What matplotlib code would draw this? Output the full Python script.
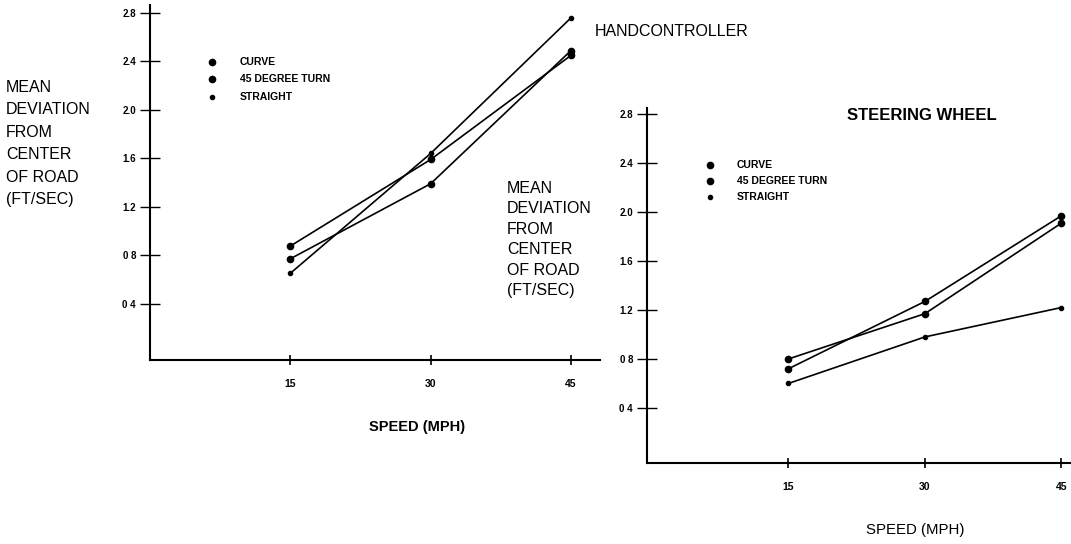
import matplotlib.pyplot as plt
from matplotlib.lines import Line2D

# data
speed = [15, 30, 45]
series_names = ['CURVE', '45 DEGREE TURN', 'STRAIGHT']

hand_curve = [0.875, 1.59, 2.45]
hand_turn = [0.77, 1.39, 2.49]
hand_straight = [0.65, 1.64, 2.76]

wheel_curve = [0.80, 1.17, 1.91]
wheel_turn = [0.72, 1.27, 1.97]
wheel_straight = [0.60, 0.98, 1.22]

y_ticks = [0.4, 0.8, 1.2, 1.6, 2.0, 2.4, 2.8]
y_tick_labels = ['0 4', '0 8', '1.2', '1.6', '2.0', '2.4', '2.8']
x_ticks = [15, 30, 45]
x_tick_labels = ['15', '30', '45']

ylabel_text = 'MEAN\nDEVIATION\nFROM\nCENTER\nOF ROAD\n(FT/SEC)'

plt.rcParams['font.family'] = ['Liberation Sans', 'DejaVu Sans']

W, H = 1071, 544
fig = plt.figure(figsize=(W / 100, H / 100), dpi=100)
fig.patch.set_facecolor('white')


def px(x, y):
    # pixel position -> figure fraction
    return x / W, 1 - y / H


def style_axes(ax):
    for s in ['top', 'right']:
        ax.spines[s].set_visible(False)
    for s in ['left', 'bottom']:
        ax.spines[s].set_linewidth(1.5)
        ax.spines[s].set_color('black')
    ax.set_facecolor('none')
    ax.set_yticks(y_ticks)
    ax.set_yticklabels(y_tick_labels, fontsize=7, fontweight='bold')
    ax.set_xticks(x_ticks)
    ax.set_xticklabels(x_tick_labels, fontsize=7.5, fontweight='bold')
    ax.tick_params(axis='y', direction='inout', length=14, width=1.0, pad=3)
    ax.tick_params(axis='x', direction='inout', length=7, width=1.2, pad=10)


def draw_series(ax, curve, turn, straight):
    ax.plot(speed, curve, color='black', lw=1.2, marker='o', ms=4.5)
    ax.plot(speed, turn, color='black', lw=1.2, marker='o', ms=4.5)
    ax.plot(speed, straight, color='black', lw=1.2, marker='o', ms=3)


def draw_legend(x_dot, x_text, rows):
    sizes = [4.5, 4.5, 3]
    for name, y, ms in zip(series_names, rows, sizes):
        fx, fy = px(x_dot, y)
        fig.add_artist(Line2D([fx], [fy], marker='o', ms=ms, color='black',
                              transform=fig.transFigure))
        tx, ty = px(x_text, y)
        fig.text(tx, ty, name, fontsize=7.5, fontweight='bold', va='center', ha='left')


# --- left panel: hand controller ---
ax1 = fig.add_axes([150 / W, 1 - 360 / H, 450 / W, 355 / H])
style_axes(ax1)
draw_series(ax1, hand_curve, hand_turn, hand_straight)
ax1.set_xlim(0, 48.1)
ax1.set_ylim(-0.066, 2.866)

draw_legend(212, 240, [62, 79, 97])
fig.text(*px(6, 80), ylabel_text, fontsize=11.5, ha='left', va='top', linespacing=1.62)
fig.text(*px(595, 31), 'HANDCONTROLLER', fontsize=11.5, ha='left', va='center')
fig.text(*px(417, 427), 'SPEED (MPH)', fontsize=10.5, fontweight='bold', ha='center', va='center')

# --- right panel: steering wheel ---
ax2 = fig.add_axes([647 / W, 1 - 463 / H, 424 / W, 355 / H])
style_axes(ax2)
draw_series(ax2, wheel_curve, wheel_turn, wheel_straight)
ax2.set_xlim(-0.55, 46.05)
ax2.set_ylim(-0.05, 2.85)

draw_legend(710, 737, [165, 181, 197])
fig.text(*px(507, 181), ylabel_text, fontsize=11.5, ha='left', va='top', linespacing=1.45)
fig.text(*px(847, 116), 'STEERING WHEEL', fontsize=12, fontweight='bold', ha='left', va='center')
fig.text(*px(915, 530), 'SPEED (MPH)', fontsize=10.8, ha='center', va='center')

fig.savefig('out.png', dpi=100)
